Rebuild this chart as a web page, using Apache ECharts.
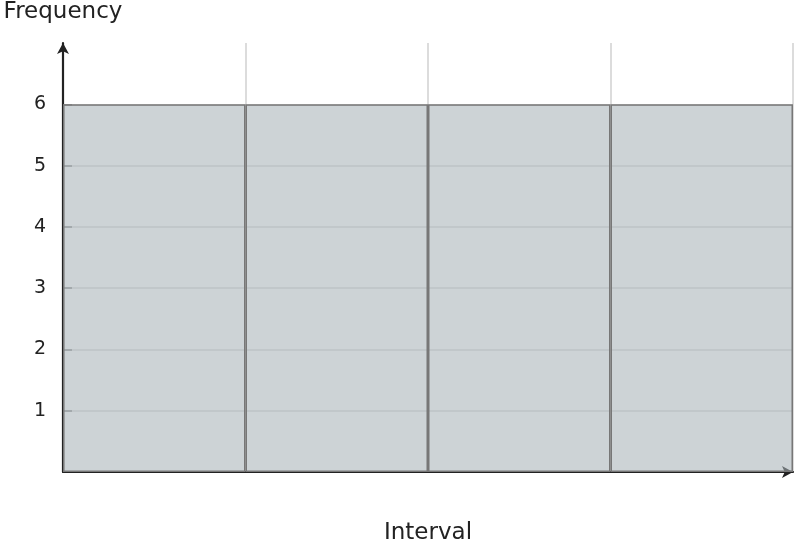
<!DOCTYPE html>
<html>
<head>
<meta charset="utf-8">
<script src="https://cdn.jsdelivr.net/npm/echarts@6/dist/echarts.min.js"></script>
<style>html,body{margin:0;padding:0;background:#fff}#c{width:796px;height:548px}</style>
</head>
<body>
<div id="c"></div>
<script>
const categories = ['1', '2', '3', '4'];
const frequencies = [6, 6, 6, 6];
const yTicks = [1, 2, 3, 4, 5, 6];

const chart = echarts.init(document.getElementById('c'));
chart.setOption({
  animation: false,
  grid: { left: 63, right: 3, top: 43, bottom: 76, containLabel: false, outerBoundsMode: 'none' },
  xAxis: {
    type: 'category',
    data: categories,
    boundaryGap: true,
    name: 'Interval',
    nameLocation: 'middle',
    nameGap: 50,
    nameTextStyle: { fontFamily: 'DejaVu Sans', fontSize: 23, color: '#222' },
    axisLine: { show: true, symbol: ['none', 'arrow'], symbolSize: [9, 11], lineStyle: { color: '#222', width: 2.2 } },
    axisTick: { show: false },
    axisLabel: { show: false },
    splitLine: { show: true, lineStyle: { color: '#d0d0d0', width: 1.5 } }
  },
  yAxis: {
    type: 'value',
    min: 0,
    max: 7,
    interval: 1,
    name: 'Frequency',
    nameLocation: 'end',
    nameGap: 31,
    nameTextStyle: { fontFamily: 'DejaVu Sans', fontSize: 23, color: '#222', align: 'center', verticalAlign: 'middle' },
    axisLine: { show: true, symbol: ['none', 'arrow'], symbolSize: [9, 11], lineStyle: { color: '#222', width: 2.2 } },
    axisTick: { show: true, inside: true, length: 9, customValues: yTicks, lineStyle: { color: '#888', width: 1.5 } },
    axisLabel: { customValues: yTicks, fontFamily: 'DejaVu Sans', fontSize: 19, color: '#222', margin: 17 },
    splitLine: { show: true, lineStyle: { color: '#dcdcdc', width: 1.5 } }
  },
  series: [{
    type: 'bar',
    data: frequencies,
    barCategoryGap: '0%',
    itemStyle: { color: 'rgba(166,176,182,0.56)', borderColor: '#777', borderWidth: 1.5 }
  }]
});
</script>
</body>
</html>
